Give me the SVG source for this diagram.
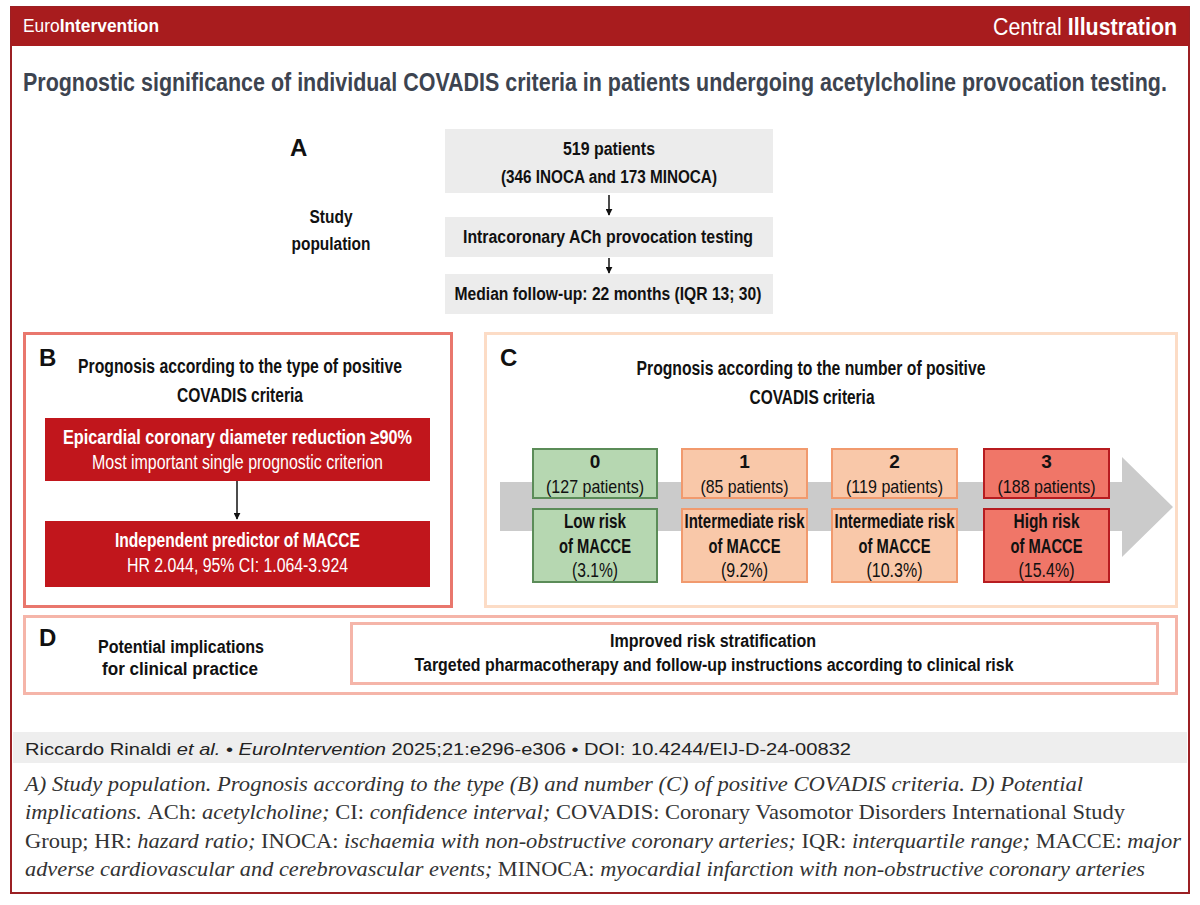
<svg xmlns="http://www.w3.org/2000/svg" width="1200" height="905" viewBox="0 0 1200 905">
<defs>
<style>
.s{font-family:"Liberation Sans",Arial,sans-serif;}
.b{font-weight:bold;}
.k{fill:#111;}
.w{fill:#fff;}
.m{text-anchor:middle;}
.cap{font-family:"Liberation Serif","Times New Roman",serif;font-size:21px;fill:#333;}
.i{font-style:italic;}
.n{font-style:normal;}
.bt{font-size:19px;}
.bb{font-size:20px;}
</style>
<marker id="ah" viewBox="0 0 10 10" refX="9" refY="5" markerWidth="7" markerHeight="7" markerUnits="userSpaceOnUse" orient="auto"><path d="M0,0 L10,5 L0,10 z" fill="#111"/></marker>
</defs>
<rect x="0" y="0" width="1200" height="905" fill="#fff"/>
<g id="frame">
<rect x="11" y="7" width="1178" height="886" fill="#fff" stroke="#9b2024" stroke-width="2"/>
<rect x="11" y="7" width="1178" height="39" fill="#a81c1e"/>
<text class="s w" x="23" y="32" font-size="19" textLength="136" lengthAdjust="spacingAndGlyphs">Euro<tspan class="b">Intervention</tspan></text>
<text class="s w" x="1177" y="35" font-size="23" text-anchor="end" textLength="184" lengthAdjust="spacingAndGlyphs">Central <tspan class="b">Illustration</tspan></text>
<text class="s b" transform="scale(0.82,1)" x="28.05" y="91" font-size="25" fill="#3d4450" textLength="1395" lengthAdjust="spacingAndGlyphs">Prognostic significance of individual COVADIS criteria in patients undergoing acetylcholine provocation testing.</text>
</g>
<g id="sectionA">
<text class="s b k" x="290" y="156" font-size="24">A</text>
<text class="s b k m" x="331" y="223" font-size="18" textLength="43" lengthAdjust="spacingAndGlyphs">Study</text>
<text class="s b k m" x="331" y="250" font-size="18" textLength="79" lengthAdjust="spacingAndGlyphs">population</text>
</g>
<g id="nodeA1">
<rect x="445" y="129" width="328" height="64" fill="#ececec"/>
<text class="s b k m" x="609" y="155" font-size="18" textLength="92" lengthAdjust="spacingAndGlyphs">519 patients</text>
<text class="s b k m" x="609" y="183" font-size="18" textLength="216" lengthAdjust="spacingAndGlyphs">(346 INOCA and 173 MINOCA)</text>
</g>
<g id="nodeA2">
<rect x="445" y="217" width="328" height="40" fill="#ececec"/>
<text class="s b k m" x="608" y="243" font-size="18" textLength="290" lengthAdjust="spacingAndGlyphs">Intracoronary ACh provocation testing</text>
</g>
<g id="nodeA3">
<rect x="445" y="274" width="328" height="40" fill="#ececec"/>
<text class="s b k m" x="608" y="300" font-size="18" textLength="307" lengthAdjust="spacingAndGlyphs">Median follow-up: 22 months (IQR 13; 30)</text>
</g>
<g id="sectionB">
<rect x="24.5" y="333.5" width="427" height="273" fill="none" stroke="#e9776d" stroke-width="3"/>
<text class="s b k" x="39" y="366" font-size="24">B</text>
<text class="s b k m bb" x="240" y="373" textLength="324" lengthAdjust="spacingAndGlyphs">Prognosis according to the type of positive</text>
<text class="s b k m bb" x="240" y="402" textLength="126" lengthAdjust="spacingAndGlyphs">COVADIS criteria</text>
</g>
<g id="nodeB1">
<rect x="45" y="418" width="385" height="63" fill="#c1161c"/>
<text class="s b w m bb" x="237.5" y="444" textLength="349" lengthAdjust="spacingAndGlyphs">Epicardial coronary diameter reduction ≥90%</text>
<text class="s w m bb" x="237.5" y="469" textLength="291" lengthAdjust="spacingAndGlyphs">Most important single prognostic criterion</text>
</g>
<g id="nodeB2">
<rect x="45" y="521" width="385" height="66" fill="#c1161c"/>
<text class="s b w m bb" x="237.5" y="547" textLength="245" lengthAdjust="spacingAndGlyphs">Independent predictor of MACCE</text>
<text class="s w m bb" x="237.5" y="572" textLength="221" lengthAdjust="spacingAndGlyphs">HR 2.044, 95% CI: 1.064-3.924</text>
</g>
<g id="sectionC">
<rect x="485.5" y="333.5" width="691" height="273" fill="none" stroke="#fcdcc6" stroke-width="3"/>
<text class="s b k" x="500" y="366" font-size="24">C</text>
<text class="s b k m bb" x="811" y="375" textLength="349" lengthAdjust="spacingAndGlyphs">Prognosis according to the number of positive</text>
<text class="s b k m bb" x="812" y="404" textLength="125" lengthAdjust="spacingAndGlyphs">COVADIS criteria</text>
<path d="M500,482 L1122,482 L1122,457 L1173,507 L1122,557 L1122,531 L500,531 z" fill="#cbcbcb"/>
</g>
<g id="nodeC0">
<rect x="533" y="449" width="124" height="49" fill="#b6d7b1" stroke="#5b8c58" stroke-width="2"/>
<text class="s b k m bt" x="595" y="468">0</text>
<text class="s k m bt" x="595" y="493" textLength="98" lengthAdjust="spacingAndGlyphs">(127 patients)</text>
<rect x="533" y="509" width="124" height="73" fill="#b6d7b1" stroke="#5b8c58" stroke-width="2"/>
<text class="s b k m bb" x="595" y="528" textLength="62" lengthAdjust="spacingAndGlyphs">Low risk</text>
<text class="s b k m bb" x="595" y="553" textLength="72" lengthAdjust="spacingAndGlyphs">of MACCE</text>
<text class="s k m bb" x="595" y="577" textLength="46" lengthAdjust="spacingAndGlyphs">(3.1%)</text>
</g>
<g id="nodeC1">
<rect x="682" y="449" width="125" height="49" fill="#f9c8a9" stroke="#f19a6e" stroke-width="2"/>
<text class="s b k m bt" x="744.5" y="468">1</text>
<text class="s k m bt" x="744.5" y="493" textLength="88" lengthAdjust="spacingAndGlyphs">(85 patients)</text>
<rect x="682" y="509" width="125" height="73" fill="#f9c8a9" stroke="#f19a6e" stroke-width="2"/>
<text class="s b k m bb" x="744.5" y="528" textLength="120" lengthAdjust="spacingAndGlyphs">Intermediate risk</text>
<text class="s b k m bb" x="744.5" y="553" textLength="72" lengthAdjust="spacingAndGlyphs">of MACCE</text>
<text class="s k m bb" x="744.5" y="577" textLength="47" lengthAdjust="spacingAndGlyphs">(9.2%)</text>
</g>
<g id="nodeC2">
<rect x="832" y="449" width="125" height="49" fill="#f9c8a9" stroke="#f19a6e" stroke-width="2"/>
<text class="s b k m bt" x="894.5" y="468">2</text>
<text class="s k m bt" x="894.5" y="493" textLength="97" lengthAdjust="spacingAndGlyphs">(119 patients)</text>
<rect x="832" y="509" width="125" height="73" fill="#f9c8a9" stroke="#f19a6e" stroke-width="2"/>
<text class="s b k m bb" x="894.5" y="528" textLength="120" lengthAdjust="spacingAndGlyphs">Intermediate risk</text>
<text class="s b k m bb" x="894.5" y="553" textLength="72" lengthAdjust="spacingAndGlyphs">of MACCE</text>
<text class="s k m bb" x="894.5" y="577" textLength="56" lengthAdjust="spacingAndGlyphs">(10.3%)</text>
</g>
<g id="nodeC3">
<rect x="984" y="449" width="125" height="49" fill="#f07668" stroke="#b71c20" stroke-width="2"/>
<text class="s b k m bt" x="1046.5" y="468">3</text>
<text class="s k m bt" x="1046.5" y="493" textLength="98" lengthAdjust="spacingAndGlyphs">(188 patients)</text>
<rect x="984" y="509" width="125" height="73" fill="#f07668" stroke="#b71c20" stroke-width="2"/>
<text class="s b k m bb" x="1046.5" y="528" textLength="66" lengthAdjust="spacingAndGlyphs">High risk</text>
<text class="s b k m bb" x="1046.5" y="553" textLength="72" lengthAdjust="spacingAndGlyphs">of MACCE</text>
<text class="s k m bb" x="1046.5" y="577" textLength="56" lengthAdjust="spacingAndGlyphs">(15.4%)</text>
</g>
<g id="sectionD">
<rect x="24.5" y="616.5" width="1152" height="77" fill="none" stroke="#f5b5a9" stroke-width="3"/>
<text class="s b k" x="39" y="646" font-size="24">D</text>
<text class="s b k m" x="181" y="653" font-size="18" textLength="166" lengthAdjust="spacingAndGlyphs">Potential implications</text>
<text class="s b k m" x="180" y="675" font-size="18" textLength="156" lengthAdjust="spacingAndGlyphs">for clinical practice</text>
</g>
<g id="nodeD">
<rect x="351.5" y="623.5" width="806" height="60" fill="#fff" stroke="#f5b5a9" stroke-width="3"/>
<text class="s b k m" x="713" y="647" font-size="18" textLength="206" lengthAdjust="spacingAndGlyphs">Improved risk stratification</text>
<text class="s b k m" x="714" y="671" font-size="18" textLength="599" lengthAdjust="spacingAndGlyphs">Targeted pharmacotherapy and follow-up instructions according to clinical risk</text>
</g>
<g id="connectors" stroke="#111" stroke-width="1.5" fill="none">
<line x1="609" y1="195" x2="609" y2="215" marker-end="url(#ah)"/>
<line x1="609" y1="258" x2="609" y2="273" marker-end="url(#ah)"/>
<line x1="237" y1="481" x2="237" y2="519" marker-end="url(#ah)"/>
</g>
<g id="footer">
<rect x="13" y="732" width="1174" height="31" fill="#eeeeee"/>
<text class="s" x="25" y="755" font-size="17" fill="#222" textLength="826" lengthAdjust="spacingAndGlyphs">Riccardo Rinaldi <tspan class="i">et al.</tspan> • <tspan class="i">EuroIntervention</tspan> 2025;21:e296-e306 • DOI: 10.4244/EIJ-D-24-00832</text>
<text class="cap i" x="25" y="791" textLength="1058" lengthAdjust="spacingAndGlyphs">A) Study population. Prognosis according to the type (B) and number (C) of positive COVADIS criteria. D) Potential</text>
<text class="cap" x="25" y="819" textLength="1100" lengthAdjust="spacingAndGlyphs"><tspan class="i">implications. </tspan>ACh: <tspan class="i">acetylcholine; </tspan>CI: <tspan class="i">confidence interval; </tspan>COVADIS: Coronary Vasomotor Disorders International Study</text>
<text class="cap" x="25" y="848" textLength="1156" lengthAdjust="spacingAndGlyphs">Group; HR: <tspan class="i">hazard ratio; </tspan>INOCA: <tspan class="i">ischaemia with non-obstructive coronary arteries; </tspan>IQR: <tspan class="i">interquartile range; </tspan>MACCE: <tspan class="i">major</tspan></text>
<text class="cap" x="25" y="876" textLength="1120" lengthAdjust="spacingAndGlyphs"><tspan class="i">adverse cardiovascular and cerebrovascular events; </tspan>MINOCA: <tspan class="i">myocardial infarction with non-obstructive coronary arteries</tspan></text>
</g>
</svg>
